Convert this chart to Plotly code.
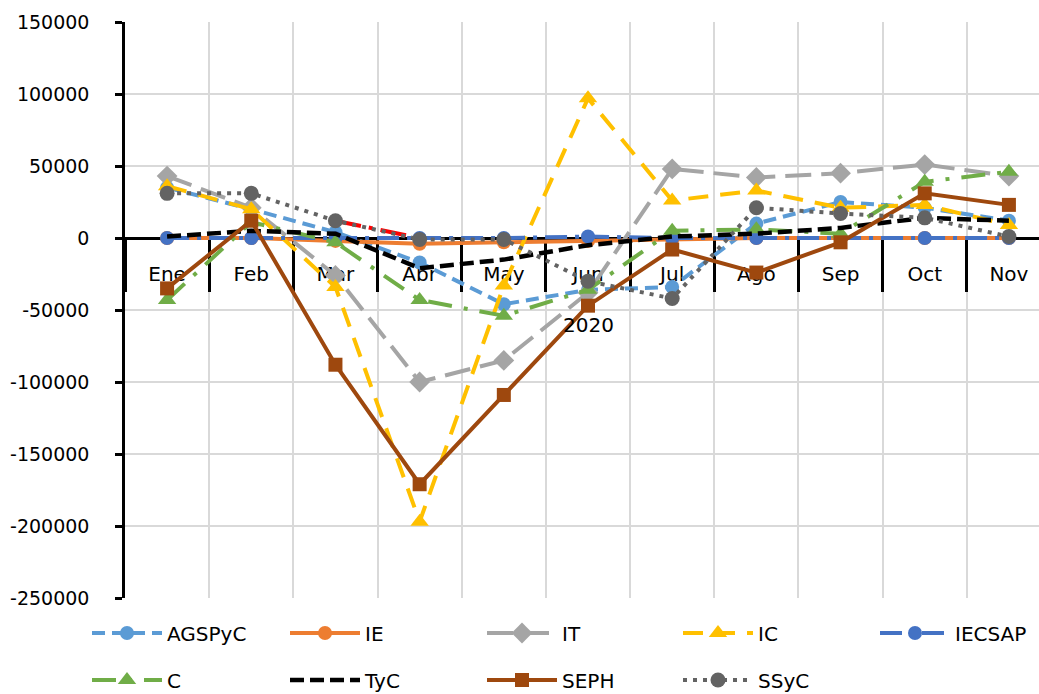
import plotly.graph_objects as go

months = ["Ene", "Feb", "Mar", "Abr", "May", "Jun", "Jul", "Ago", "Sep", "Oct", "Nov"]
year_label = "2020"

AGSPyC = [35000, 20000, 4000, -17000, -46000, -36000, -34000, 10000, 25000, 21000, 12000]
IE = [0, 0, -2000, -4000, -3000, -2000, -1000, 0, 0, 0, 0]
IT = [43000, 21000, -26000, -100000, -85000, -38000, 48000, 42000, 45000, 51000, 43000]
IC = [36000, 20000, -34000, -197000, -33000, 97000, 26000, 33000, 21000, 23000, 9000]
IECSAP = [0, 0, 0, 0, 0, 1000, 0, 0, 0, 0, 0]
C = [-43000, 11000, -3000, -43000, -54000, -36000, 5000, 6000, 3000, 39000, 46000]
TyC = [1000, 5000, 3000, -21000, -15000, -5000, 1000, 3000, 7000, 14000, 12000]
SEPH = [-35000, 12000, -88000, -171000, -109000, -47000, -8000, -24000, -3000, 31000, 23000]
SSyC = [31000, 31000, 12000, -1000, -1000, -30000, -42000, 21000, 17000, 14000, 1000]
RED = [None, None, 12000, 0, None, None, None, None, None, None, None]

y_ticks = [-250000, -200000, -150000, -100000, -50000, 0, 50000, 100000, 150000]
y_ticktext = [str(v) for v in y_ticks]

FONT = "DejaVu Sans"

series = [
    # name, values, color, dash, symbol, width, msize
    ("AGSPyC", AGSPyC, "#5B9BD5", "13px,7px", "circle", 4, 14),
    ("IE", IE, "#ED7D31", "solid", "circle", 4, 14),
    ("IT", IT, "#A5A5A5", "26px,10px", "diamond", 4, 16),
    ("IC", IC, "#FFC000", "20px,12px", "triangle-up", 4, 16),
    ("IECSAP", IECSAP, "#4472C4", "22px,8px,4px,8px", "circle", 4, 14),
    ("C", C, "#70AD47", "24px,12px,4px,12px", "triangle-up", 4, 16),
    ("TyC", TyC, "#000000", "14px,6px", None, 4.5, 0),
    ("SEPH", SEPH, "#9E480E", "solid", "square", 4, 14),
    ("SSyC", SSyC, "#636363", "4px,6px", "circle", 4, 15),
]

# legend grid (pixel columns / rows of the legend entries)
leg_cols = [92, 290, 487, 683, 880]
leg_rows = [633, 680]

W, H = 1039, 694
ML, MR, MT, MB = 125, 0, 22, 96
plot_w = W - ML - MR
plot_h = H - MT - MB

fig = go.Figure()

fig.add_trace(go.Scatter(
    x=months, y=RED, mode="lines", showlegend=False,
    line=dict(color="#FF0000", width=4, dash="26px,8px,4px,8px"),
    connectgaps=False, hoverinfo="skip"))

legend_layouts = {}
for i, (name, vals, color, dash, sym, w, ms) in enumerate(series):
    leg_id = "legend" if i == 0 else f"legend{i + 1}"
    col = leg_cols[i % 5]
    row = leg_rows[i // 5]
    legend_layouts[leg_id] = dict(
        orientation="h", x=(col - 5 - ML) / plot_w, y=(H - MB - row) / plot_h,
        xanchor="left", yanchor="middle", itemwidth=70,
        font=dict(family=FONT, size=20), bgcolor="rgba(0,0,0,0)")
    if sym is None:
        fig.add_trace(go.Scatter(x=months, y=vals, name=name, mode="lines",
                                 line=dict(color=color, width=w, dash=dash), legend=leg_id))
    else:
        fig.add_trace(go.Scatter(x=months, y=vals, name=name, mode="lines+markers",
                                 line=dict(color=color, width=w, dash=dash),
                                 marker=dict(symbol=sym, size=ms, color=color),
                                 legend=leg_id))

ymin, ymax = y_ticks[0], y_ticks[-1]
zero_pos = (0 - ymin) / (ymax - ymin)

fig.update_layout(
    width=W, height=H,
    margin=dict(l=ML, r=MR, t=MT, b=MB, autoexpand=False),
    paper_bgcolor="white", plot_bgcolor="white",
    font=dict(family=FONT, size=19, color="#000000"),
    xaxis=dict(
        type="category", categoryorder="array", categoryarray=months,
        range=[-0.5, len(months) - 0.5 - 12 / 84.2],
        anchor="free", position=zero_pos, layer="below traces",
        showline=True, linecolor="black", linewidth=2.5,
        ticks="outside", tickson="boundaries", ticklen=52, tickwidth=2.5, tickcolor="black",
        ticklabelstandoff=17,
        showgrid=True, gridcolor="#D9D9D9", gridwidth=1.5,
        tickfont=dict(family=FONT, size=20),
        zeroline=False,
    ),
    yaxis=dict(
        range=[ymin, ymax], tickvals=y_ticks, ticktext=y_ticktext,
        showline=True, linecolor="black", linewidth=2.5,
        ticks="outside", ticklen=7, tickwidth=2.5, tickcolor="black",
        ticklabelstandoff=22,
        showgrid=True, gridcolor="#D9D9D9", gridwidth=1.5,
        zeroline=False,
        tickfont=dict(family=FONT, size=19),
    ),
    showlegend=True,
    **legend_layouts,
)

fig.add_annotation(text=year_label, x=months[len(months) // 2], xref="x",
                   y=(H - MB - 325) / plot_h, yref="paper", showarrow=False,
                   font=dict(family=FONT, size=20), xanchor="center", yanchor="middle")

fig.write_html("out.html")
